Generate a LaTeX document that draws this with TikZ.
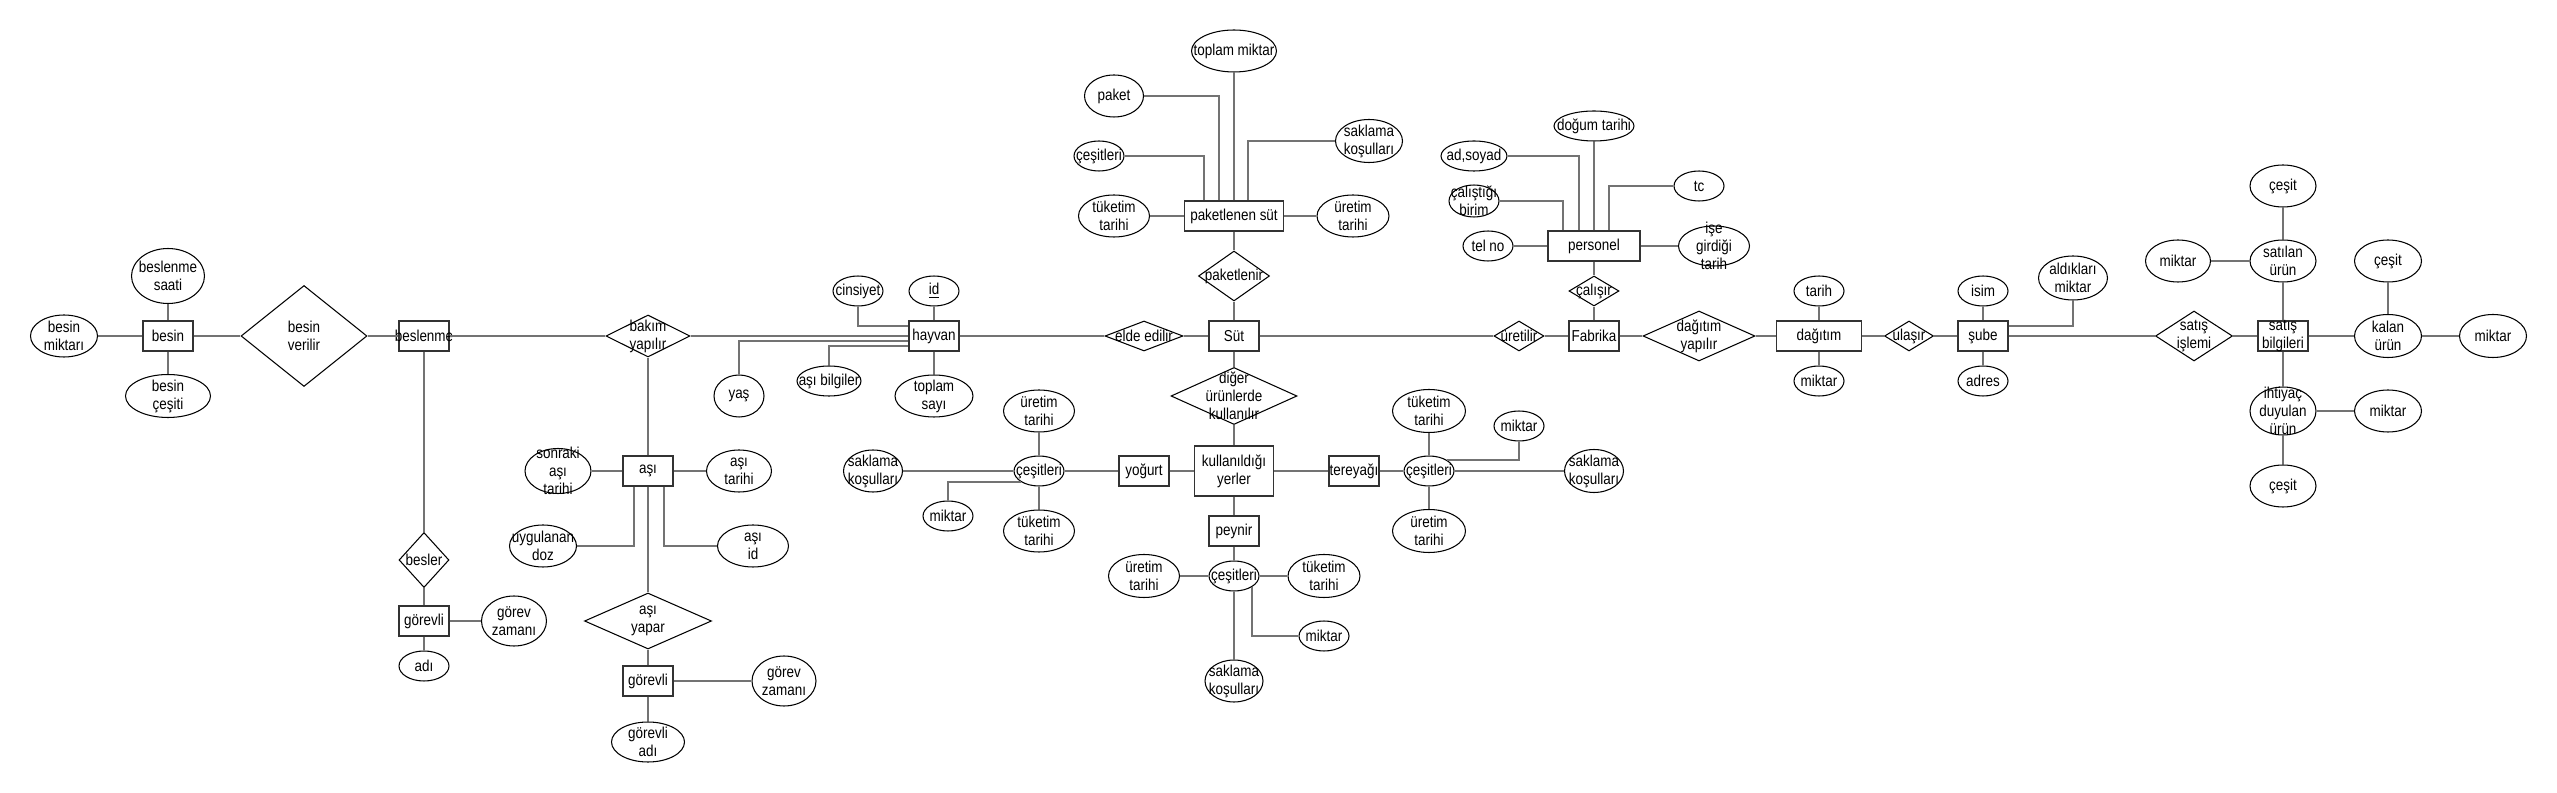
\documentclass[tikz,border=0pt]{standalone}
\usepackage{fontspec}
\setmainfont{Liberation Sans}[FakeStretch=0.85]
\usetikzlibrary{shapes.geometric}
\newcommand{\erfont}{\fontsize{9}{10.2}\selectfont}

\begin{document}
\begin{tikzpicture}[x=0.02cm, y=-0.02cm,
    ent/.style={draw=black!80, line width=0.8pt, minimum width=1cm, minimum height=0.6cm, inner sep=0pt},
    attr/.style={ellipse, draw=black, line width=0.6pt, minimum width=1cm, minimum height=0.6cm, inner sep=0pt},
    rel/.style={diamond, draw=black, line width=0.6pt, inner sep=0pt},
    conn/.style={black!55, line width=0.8pt},
    every label/.style={align=center, font=\erfont, inner sep=0pt}]
    \useasboundingbox (0,0) rectangle (2557,793);

    \node[ent, label={center:besin}] (besin) at (168,336) {};
    \node[ent, label={center:beslenme}] (beslenme) at (424,336) {};
    \node[ent, label={center:görevli}] (gorevliA) at (424,621) {};
    \node[ent, label={center:aşı}] (asi) at (648,471) {};
    \node[ent, label={center:görevli}] (gorevliB) at (648,681) {};
    \node[ent, label={center:hayvan}] (hayvan) at (934,336) {};
    \node[ent, label={center:Süt}] (sut) at (1234,336) {};
    \node[ent, minimum width=1.98cm, label={center:paketlenen süt}] (paketsut) at (1234,216) {};
    \node[ent, label={center:yoğurt}] (yogurt) at (1144,471) {};
    \node[ent, minimum width=1.58cm, minimum height=1cm, label={center:kullanıldığı\\yerler}] (yerler) at (1234,471) {};
    \node[ent, label={center:tereyağı}] (tereyagi) at (1354,471) {};
    \node[ent, label={center:peynir}] (peynir) at (1234,531) {};
    \node[ent, label={center:Fabrika}] (fabrika) at (1594,336) {};
    \node[ent, minimum width=1.84cm, label={center:personel}] (personel) at (1594,246) {};
    \node[ent, minimum width=1.7cm, label={center:dağıtım}] (dagitim) at (1819,336) {};
    \node[ent, label={center:şube}] (sube) at (1983,336) {};
    \node[ent, label={center:satış\\bilgileri}] (satisbilgi) at (2283,336) {};

    \node[rel, minimum width=2.52cm, minimum height=2.02cm, label={center:besin\\verilir}] (verilir) at (304,336) {};
    \node[rel, minimum width=1.68cm, minimum height=0.84cm, label={center:bakım\\yapılır}] (bakim) at (648,336) {};
    \node[rel, minimum width=1cm, minimum height=1.1cm, label={center:besler}] (besler) at (424,560) {};
    \node[rel, minimum width=2.54cm, minimum height=1.12cm, label={center:aşı\\yapar}] (asiyapar) at (648,621) {};
    \node[rel, minimum width=1.56cm, minimum height=0.6cm, label={center:elde edilir}] (elde) at (1144,336) {};
    \node[rel, minimum width=1.42cm, minimum height=1cm, label={center:paketlenir}] (paketlenir) at (1234,276) {};
    \node[rel, minimum width=2.52cm, minimum height=1.14cm, label={center:diğer\\ürünlerde\\kullanılır}] (diger) at (1234,396) {};
    \node[rel, minimum width=1cm, minimum height=0.6cm, label={center:üretilir}] (uretilir) at (1519,336) {};
    \node[rel, minimum width=1cm, minimum height=0.6cm, label={center:çalışır}] (calisir) at (1594,291) {};
    \node[rel, minimum width=2.24cm, minimum height=1cm, label={center:dağıtım\\yapılır}] (dagyap) at (1699,336) {};
    \node[rel, minimum width=0.98cm, minimum height=0.6cm, label={center:ulaşır}] (ulasir) at (1909,336) {};
    \node[rel, minimum width=1.54cm, minimum height=1cm, label={center:satış\\işlemi}] (satis) at (2194,336) {};

    \node[attr, minimum width=1.34cm, minimum height=0.84cm, label={center:besin\\miktarı}] (besinmiktari) at (64,336) {};
    \node[attr, minimum width=1.46cm, minimum height=1.1cm, label={center:beslenme\\saati}] (saati) at (168,276) {};
    \node[attr, minimum width=1.7cm, minimum height=0.86cm, label={center:besin\\çeşiti}] (besincesiti) at (168,396) {};
    \node[attr, minimum width=1.3cm, minimum height=1cm, label={center:görev\\zamanı}] (zamaniA) at (514,621) {};
    \node[attr, label={center:adı}] (adi) at (424,666) {};
    \node[attr, minimum width=1.32cm, minimum height=0.9cm, label={center:sonraki\\aşı\\tarihi}] (sonraki) at (558,471) {};
    \node[attr, minimum width=1.34cm, minimum height=0.84cm, label={center:uygulanan\\doz}] (doz) at (543,546) {};
    \node[attr, minimum width=1.3cm, minimum height=0.84cm, label={center:aşı\\tarihi}] (asitarihi) at (739,471) {};
    \node[attr, minimum width=1.42cm, minimum height=0.84cm, label={center:aşı\\id}] (asiid) at (753,546) {};
    \node[attr, minimum width=1.28cm, minimum height=1cm, label={center:görev\\zamanı}] (zamaniB) at (784,681) {};
    \node[attr, minimum width=1.46cm, minimum height=0.8cm, label={center:görevli\\adı}] (gorevliadi) at (648,742) {};
    \node[attr, label={center:cinsiyet}] (cinsiyet) at (858,291) {};
    \node[attr, label={center:\underline{id}}] (id) at (934,291) {};
    \node[attr, minimum height=0.84cm, label={center:yaş}] (yas) at (739,396) {};
    \node[attr, minimum width=1.28cm, label={center:aşı bilgiler}] (asibilgi) at (829,381) {};
    \node[attr, minimum width=1.56cm, minimum height=0.84cm, label={center:toplam\\sayı}] (toplamsayi) at (934,396) {};

    \node[attr, minimum width=1.7cm, minimum height=0.84cm, label={center:toplam miktar}] (toplammiktar) at (1234,51) {};
    \node[attr, minimum width=1.18cm, minimum height=0.84cm, label={center:paket}] (paket) at (1114,96) {};
    \node[attr, label={center:çeşitleri}] (cesitleriP) at (1099,156) {};
    \node[attr, minimum width=1.34cm, minimum height=0.86cm, label={center:saklama\\koşulları}] (saklamaP) at (1369,141) {};
    \node[attr, minimum width=1.42cm, minimum height=0.84cm, label={center:tüketim\\tarihi}] (tuketimP) at (1114,216) {};
    \node[attr, minimum width=1.44cm, minimum height=0.84cm, label={center:üretim\\tarihi}] (uretimP) at (1353,216) {};

    \node[attr, label={center:çeşitleri}] (cesitleriY) at (1039,471) {};
    \node[attr, minimum width=1.18cm, minimum height=0.84cm, label={center:saklama\\koşulları}] (saklamaY) at (873,471) {};
    \node[attr, label={center:miktar}] (miktarY) at (948,516) {};
    \node[attr, minimum width=1.42cm, minimum height=0.84cm, label={center:üretim\\tarihi}] (uretimY) at (1039,411) {};
    \node[attr, minimum width=1.42cm, minimum height=0.84cm, label={center:tüketim\\tarihi}] (tuketimY) at (1039,531) {};

    \node[attr, label={center:çeşitleri}] (cesitleriT) at (1429,471) {};
    \node[attr, minimum width=1.46cm, minimum height=0.86cm, label={center:tüketim\\tarihi}] (tuketimT) at (1429,411) {};
    \node[attr, label={center:miktar}] (miktarT) at (1519,426) {};
    \node[attr, minimum width=1.18cm, minimum height=0.86cm, label={center:saklama\\koşulları}] (saklamaT) at (1594,471) {};
    \node[attr, minimum width=1.46cm, minimum height=0.86cm, label={center:üretim\\tarihi}] (uretimT) at (1429,531) {};

    \node[attr, label={center:çeşitleri}] (cesitleriPy) at (1234,576) {};
    \node[attr, minimum width=1.42cm, minimum height=0.86cm, label={center:üretim\\tarihi}] (uretimPy) at (1144,576) {};
    \node[attr, minimum width=1.44cm, minimum height=0.86cm, label={center:tüketim\\tarihi}] (tuketimPy) at (1324,576) {};
    \node[attr, label={center:miktar}] (miktarPy) at (1324,636) {};
    \node[attr, minimum width=1.16cm, minimum height=0.84cm, label={center:saklama\\koşulları}] (saklamaPy) at (1234,681) {};

    \node[attr, label={center:tel no}] (telno) at (1488,246) {};
    \node[attr, minimum height=0.64cm, label={center:çalıştığı\\birim}] (calistigi) at (1474,201) {};
    \node[attr, minimum width=1.32cm, label={center:ad,soyad}] (adsoyad) at (1474,156) {};
    \node[attr, minimum width=1.6cm, label={center:doğum tarihi}] (dogum) at (1594,126) {};
    \node[attr, label={center:tc}] (tc) at (1699,186) {};
    \node[attr, minimum width=1.42cm, minimum height=0.8cm, label={center:işe\\girdiği\\tarih}] (isegirdi) at (1714,246) {};

    \node[attr, label={center:tarih}] (tarih) at (1819,291) {};
    \node[attr, label={center:miktar}] (miktarD) at (1819,381) {};
    \node[attr, label={center:isim}] (isim) at (1983,291) {};
    \node[attr, label={center:adres}] (adres) at (1983,381) {};
    \node[attr, minimum width=1.38cm, minimum height=0.88cm, label={center:aldıkları\\miktar}] (aldiklari) at (2073,278) {};

    \node[attr, minimum width=1.32cm, minimum height=0.84cm, label={center:satılan\\ürün}] (satilan) at (2283,261) {};
    \node[attr, minimum width=1.32cm, minimum height=0.84cm, label={center:çeşit}] (cesitS) at (2283,186) {};
    \node[attr, minimum width=1.3cm, minimum height=0.84cm, label={center:miktar}] (miktarS) at (2178,261) {};
    \node[attr, minimum width=1.34cm, minimum height=0.86cm, label={center:kalan\\ürün}] (kalan) at (2388,336) {};
    \node[attr, minimum width=1.34cm, minimum height=0.84cm, label={center:çeşit}] (cesitK) at (2388,261) {};
    \node[attr, minimum width=1.34cm, minimum height=0.86cm, label={center:miktar}] (miktarK) at (2493,336) {};
    \node[attr, minimum width=1.32cm, minimum height=0.96cm, label={center:ihtiyaç\\duyulan\\ürün}] (ihtiyac) at (2283,411) {};
    \node[attr, minimum width=1.34cm, minimum height=0.84cm, label={center:miktar}] (miktarI) at (2388,411) {};
    \node[attr, minimum width=1.32cm, minimum height=0.84cm, label={center:çeşit}] (cesitI) at (2283,486) {};

    \draw[conn] (besinmiktari) -- (besin) -- (verilir) -- (beslenme) -- (bakim) -- (hayvan) -- (elde) -- (sut)
        -- (uretilir) -- (fabrika) -- (dagyap) -- (dagitim) -- (ulasir) -- (sube) -- (satis) -- (satisbilgi) -- (kalan) -- (miktarK);
    \draw[conn] (saati) -- (besin) -- (besincesiti);
    \draw[conn] (beslenme) -- (besler) -- (gorevliA) -- (adi);
    \draw[conn] (gorevliA) -- (zamaniA);
    \draw[conn] (bakim) -- (asi) -- (asiyapar) -- (gorevliB) -- (gorevliadi);
    \draw[conn] (gorevliB) -- (zamaniB);
    \draw[conn] (sonraki) -- (asi) -- (asitarihi);
    \draw[conn] ([xshift=-0.28cm]asi.south) |- (doz);
    \draw[conn] ([xshift=0.32cm]asi.south) |- (asiid);
    \draw[conn] (id) -- (hayvan) -- (toplamsayi);
    \draw[conn] (cinsiyet) |- ([yshift=0.2cm]hayvan.west);
    \draw[conn] ([yshift=-0.1cm]hayvan.west) -| (yas);
    \draw[conn] ([yshift=-0.2cm]hayvan.west) -| (asibilgi);

    \draw[conn] (sut) -- (paketlenir) -- (paketsut) -- (toplammiktar);
    \draw[conn] (tuketimP) -- (paketsut) -- (uretimP);
    \draw[conn] (paket) -| ([xshift=-0.3cm]paketsut.north);
    \draw[conn] (cesitleriP) -| ([xshift=-0.6cm]paketsut.north);
    \draw[conn] (saklamaP) -| ([xshift=0.28cm]paketsut.north);

    \draw[conn] (sut) -- (diger) -- (yerler) -- (peynir) -- (cesitleriPy) -- (saklamaPy);
    \draw[conn] (uretimPy) -- (cesitleriPy) -- (tuketimPy);
    \draw[conn] (cesitleriPy.south east) |- (miktarPy);
    \draw[conn] (saklamaY) -- (cesitleriY) -- (yogurt) -- (yerler) -- (tereyagi) -- (cesitleriT) -- (saklamaT);
    \draw[conn] (uretimY) -- (cesitleriY) -- (tuketimY);
    \draw[conn] (cesitleriY.south west) -| (miktarY);
    \draw[conn] (tuketimT) -- (cesitleriT) -- (uretimT);
    \draw[conn] (cesitleriT.north east) -| (miktarT);

    \draw[conn] (fabrika) -- (calisir) -- (personel) -- (dogum);
    \draw[conn] (telno) -- (personel) -- (isegirdi);
    \draw[conn] (adsoyad) -| ([xshift=-0.3cm]personel.north);
    \draw[conn] (calistigi) -| ([xshift=-0.62cm]personel.north);
    \draw[conn] (tc) -| ([xshift=0.3cm]personel.north);

    \draw[conn] (tarih) -- (dagitim) -- (miktarD);
    \draw[conn] (isim) -- (sube) -- (adres);
    \draw[conn] ([yshift=0.2cm]sube.east) -| (aldiklari);
    \draw[conn] (cesitS) -- (satilan) -- (satisbilgi) -- (ihtiyac) -- (cesitI);
    \draw[conn] (miktarS) -- (satilan);
    \draw[conn] (cesitK) -- (kalan);
    \draw[conn] (ihtiyac) -- (miktarI);
\end{tikzpicture}
\end{document}
